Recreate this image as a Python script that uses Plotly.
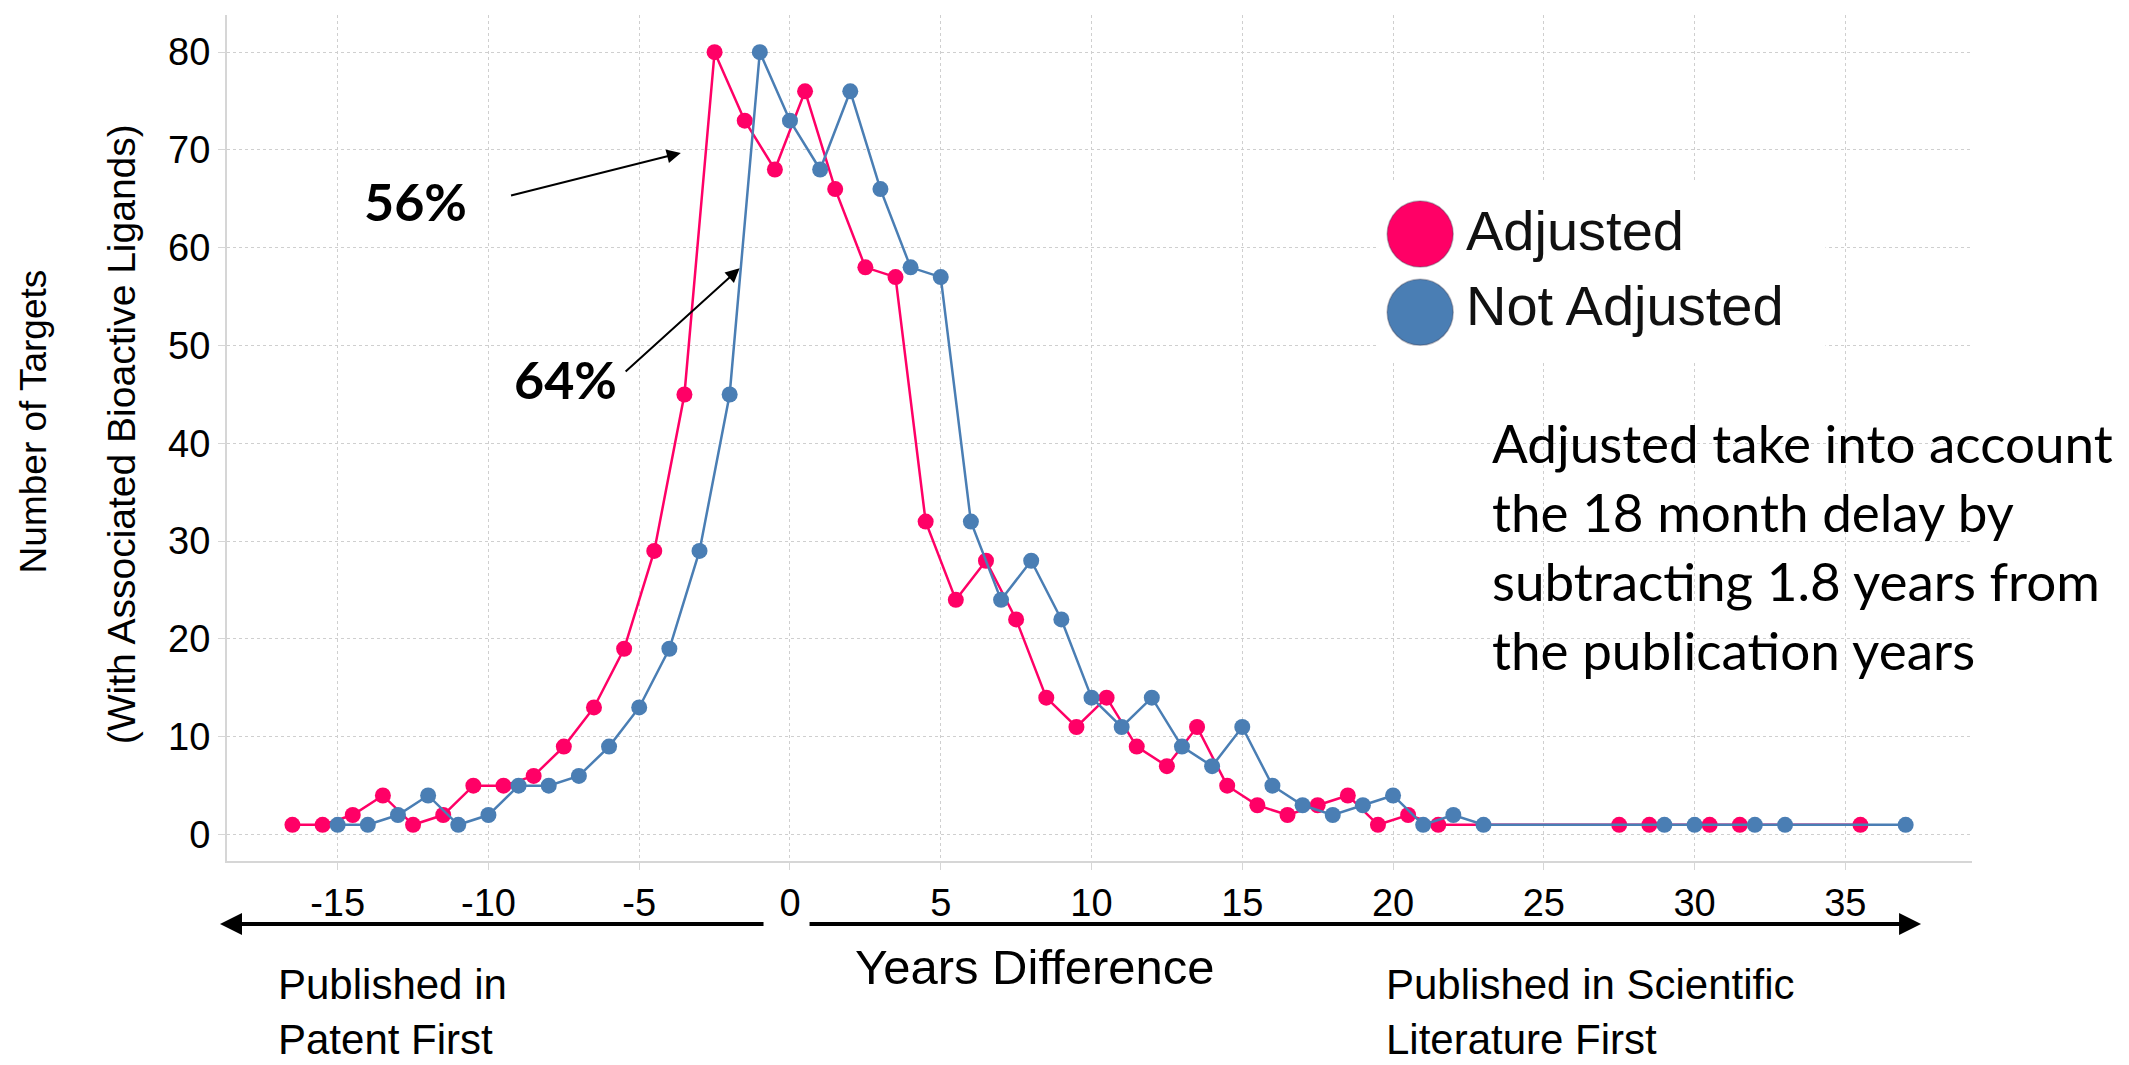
import plotly.graph_objects as go

# ---- data ----
not_adj_years = [-15, -14, -13, -12, -11, -10, -9, -8, -7, -6, -5, -4, -3, -2, -1, 0, 1, 2, 3, 4,
                 5, 6, 7, 8, 9, 10, 11, 12, 13, 14, 15, 16, 17, 18, 19, 20, 21, 22, 23,
                 29, 30, 32, 33, 37]
not_adj_counts = [1, 1, 2, 4, 1, 2, 5, 5, 6, 9, 13, 19, 29, 45, 80, 73, 68, 76, 66, 58,
                  57, 32, 24, 28, 22, 14, 11, 14, 9, 7, 11, 5, 3, 2, 3, 4, 1, 2, 1,
                  1, 1, 1, 1, 1]
adj_years = [-16.5, -15.5, -14.5, -13.5, -12.5, -11.5, -10.5, -9.5, -8.5, -7.5, -6.5, -5.5, -4.5,
             -3.5, -2.5, -1.5, -0.5, 0.5, 1.5, 2.5, 3.5, 4.5, 5.5, 6.5, 7.5, 8.5, 9.5, 10.5,
             11.5, 12.5, 13.5, 14.5, 15.5, 16.5, 17.5, 18.5, 19.5, 20.5, 21.5,
             27.5, 28.5, 30.5, 31.5, 35.5]
adj_counts = [1, 1, 2, 4, 1, 2, 5, 5, 6, 9, 13, 19, 29,
              45, 80, 73, 68, 76, 66, 58, 57, 32, 24, 28, 22, 14, 11, 14,
              9, 7, 11, 5, 3, 2, 3, 4, 1, 2, 1,
              1, 1, 1, 1, 1]
x_ticks = [-15, -10, -5, 0, 5, 10, 15, 20, 25, 30, 35]
x_tick_labels = ["-15", "-10", "-5", "0", "5", "10", "15", "20", "25", "30", "35"]
y_ticks = [0, 10, 20, 30, 40, 50, 60, 70, 80]

PINK = "#FF0066"
BLUE = "#4A7EB4"
ARIAL = "Liberation Sans, Arial, sans-serif"
CAL = "Lato, Open Sans, sans-serif"

fig = go.Figure()
fig.add_trace(go.Scatter(x=adj_years, y=adj_counts, mode="lines+markers", name="Adjusted",
                         line=dict(color=PINK, width=2.5), marker=dict(color=PINK, size=16),
                         showlegend=False))
fig.add_trace(go.Scatter(x=not_adj_years, y=not_adj_counts, mode="lines+markers", name="Not Adjusted",
                         line=dict(color=BLUE, width=2.5), marker=dict(color=BLUE, size=16),
                         showlegend=False))

axis_common = dict(showline=True, linecolor="#d6d6d6", linewidth=2,
                   showgrid=True, gridcolor="#cfcfcf", gridwidth=1, griddash="dot",
                   zeroline=False, ticks="outside", ticklen=7, tickcolor="#d6d6d6",
                   tickfont=dict(family=ARIAL, size=38, color="#000"))

fig.update_xaxes(range=[-18.67, 39.2], tickvals=x_ticks, ticktext=x_tick_labels,
                 ticklabelstandoff=0, **axis_common)
fig.update_yaxes(range=[-2.7, 83.8], tickvals=y_ticks, ticklabelstandoff=0, **axis_common)

shapes = []
# legend box (white background covering grid)
shapes.append(dict(type="rect", xref="x", yref="y", x0=19.52, x1=34.34, y0=48.3, y1=66.9,
                   fillcolor="white", line=dict(width=0), layer="between"))
for yc, col in [(61.4, PINK), (53.4, BLUE)]:
    shapes.append(dict(type="circle", xref="x", yref="y", xsizemode="pixel", ysizemode="pixel",
                       xanchor=20.9, yanchor=yc, x0=-33, x1=33, y0=-33, y1=33,
                       fillcolor=col, line=dict(color="rgba(60,60,80,0.35)", width=1.5),
                       layer="above"))
fig.update_layout(shapes=shapes)

ann = []
# legend labels
ann.append(dict(x=22.35, y=61.8, xref="x", yref="y", text="Adjusted", showarrow=False,
                xanchor="left", yanchor="middle", font=dict(family=ARIAL, size=56, color="#111")))
ann.append(dict(x=22.35, y=54.1, xref="x", yref="y", text="Not Adjusted", showarrow=False,
                xanchor="left", yanchor="middle", font=dict(family=ARIAL, size=56, color="#111")))
# percentage labels
ann.append(dict(x=-12.43, y=64.8, xref="x", yref="y", text="<b>56%</b>", showarrow=False,
                font=dict(family=CAL, size=52, color="#000")))
ann.append(dict(x=-7.43, y=46.6, xref="x", yref="y", text="<b>64%</b>", showarrow=False,
                font=dict(family=CAL, size=52, color="#000")))
# pointer arrows
ann.append(dict(x=-3.62, y=69.7, ax=-9.3, ay=65.3, xref="x", yref="y", axref="x", ayref="y",
                text="", showarrow=True, arrowhead=2, arrowsize=1.4, arrowwidth=2, arrowcolor="#000"))
ann.append(dict(x=-1.67, y=57.9, ax=-5.5, ay=47.2, xref="x", yref="y", axref="x", ayref="y",
                text="", showarrow=True, arrowhead=2, arrowsize=1.4, arrowwidth=2, arrowcolor="#000"))
# explanation text
ann.append(dict(x=23.2, y=29.5, xref="x", yref="y",
                text="Adjusted take into account<br>the 18 month delay by<br>subtracting 1.8 years from<br>the publication years",
                showarrow=False, xanchor="left", yanchor="middle", align="left",
                font=dict(family=CAL, size=53, color="#000")))
# y axis title (two lines)
ann.append(dict(x=-0.111, y=0.52, xref="paper", yref="paper", text="Number of Targets",
                textangle=-90, showarrow=False, xanchor="center", yanchor="middle",
                font=dict(family=ARIAL, size=37, color="#000")))
ann.append(dict(x=-0.0605, y=0.505, xref="paper", yref="paper", text="(With Associated Bioactive Ligands)",
                textangle=-90, showarrow=False, xanchor="center", yanchor="middle",
                font=dict(family=ARIAL, size=39, color="#000")))
# x axis title
ann.append(dict(x=0.463, y=-0.1253, xref="paper", yref="paper", text="Years Difference",
                showarrow=False, xanchor="center", yanchor="middle",
                font=dict(family=ARIAL, size=49, color="#000")))
# bottom direction arrows
ann.append(dict(x=-0.004, y=-0.0745, xref="paper", yref="paper", ax=545, ay=0,
                text="", showarrow=True, arrowhead=2, arrowsize=1.1, arrowwidth=4, arrowcolor="#000"))
ann.append(dict(x=0.9708, y=-0.0745, xref="paper", yref="paper", ax=-1113, ay=0,
                text="", showarrow=True, arrowhead=2, arrowsize=1.1, arrowwidth=4, arrowcolor="#000"))
ann.append(dict(x=0.0287, y=-0.1785, xref="paper", yref="paper", text="Published in<br>Patent First",
                showarrow=False, xanchor="left", yanchor="middle", align="left", borderpad=0,
                font=dict(family=ARIAL, size=42, color="#000")))
ann.append(dict(x=0.6636, y=-0.1785, xref="paper", yref="paper",
                text="Published in Scientific<br>Literature First",
                showarrow=False, xanchor="left", yanchor="middle", align="left", borderpad=0,
                font=dict(family=ARIAL, size=42, color="#000")))

# the page body adds an 8px offset, so the figure is 8px smaller with matching margins
fig.update_layout(annotations=ann, width=2121, height=1057,
                  margin=dict(l=219, r=157, t=7, b=204),
                  plot_bgcolor="white", paper_bgcolor="white", showlegend=False)

fig.write_html("out.html")
